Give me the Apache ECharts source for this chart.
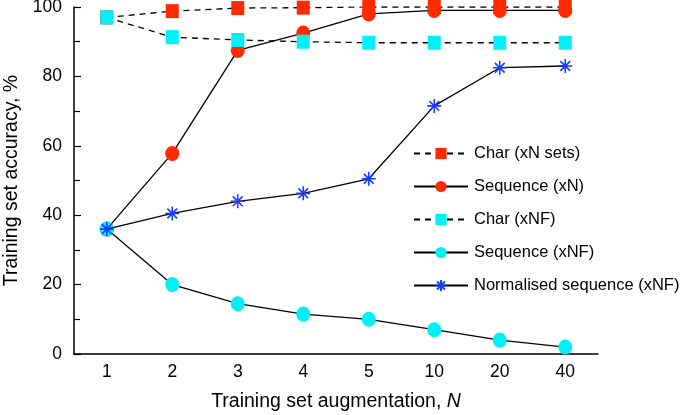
<!DOCTYPE html>
<html>
<head>
<meta charset="utf-8">
<script src="https://cdn.jsdelivr.net/npm/echarts@6/dist/echarts.min.js"></script>
<style>
  html, body { margin: 0; padding: 0; background: #fff; }
  #chart { width: 685px; height: 415px; }
</style>
</head>
<body>
<div id="chart"></div>
<script>
const categories = ['1', '2', '3', '4', '5', '10', '20', '40'];
const charXN = [97, 98.8, 99.7, 99.8, 100, 100, 100, 100];
const seqXN = [36, 57.8, 87.5, 92.5, 98, 99, 99, 99];
const charXNF = [97, 91.3, 90.5, 90, 89.7, 89.7, 89.7, 89.7];
const seqXNF = [36, 20, 14.5, 11.5, 10, 7, 4, 2];
const normSeqXNF = [36, 40.5, 44, 46.3, 50.5, 71.5, 82.5, 83];
const yTicks = [0, 20, 40, 60, 80, 100];

const FONT = 'Liberation Sans, Arial, sans-serif';
const asterisk = 'path://M0,-10L0,10M-10,0L10,0M-7,-7L7,7M-7,7L7,-7';

const chart = echarts.init(document.getElementById('chart'));

const option = {
  animation: false,
  grid: { left: 74, right: 87, top: 7, bottom: 61, outerBoundsMode: 'none' },
  legend: {
    orient: 'vertical',
    left: 408,
    top: 140,
    itemWidth: 54,
    itemHeight: 14,
    itemGap: 16,
    textStyle: { fontFamily: FONT, fontSize: 16.5, color: '#000', padding: [0, 0, 0, 1] },
    data: ['Char (xN sets)', 'Sequence (xN)', 'Char (xNF)', 'Sequence (xNF)', 'Normalised sequence (xNF)']
  },
  xAxis: {
    type: 'category',
    data: categories,
    boundaryGap: true,
    axisLine: { lineStyle: { color: '#000', width: 1.5 } },
    axisTick: { inside: true, alignWithLabel: true, length: 8, lineStyle: { color: '#000', width: 1.2 } },
    axisLabel: { color: '#000', fontFamily: FONT, fontSize: 17.5, margin: 9 },
    name: '{a|Training set augmentation, }{b|N}',
    nameLocation: 'middle',
    nameGap: 38,
    nameTextStyle: {
      rich: {
        a: { fontFamily: FONT, fontSize: 19.5, color: '#000' },
        b: { fontFamily: FONT, fontSize: 19.5, color: '#000', fontStyle: 'italic' }
      }
    }
  },
  yAxis: {
    type: 'value',
    min: yTicks[0],
    max: yTicks[yTicks.length - 1],
    interval: 20,
    splitLine: { show: false },
    axisLine: { show: true, lineStyle: { color: '#000', width: 1.5 } },
    axisTick: { show: true, inside: true, length: 7, lineStyle: { color: '#000', width: 1.2 } },
    minorTick: { show: true, splitNumber: 2, length: 6, lineStyle: { color: '#000', width: 1.2 } },
    axisLabel: { color: '#000', fontFamily: FONT, fontSize: 17.5, margin: 12 },
    name: 'Training set accuracy, %',
    nameLocation: 'middle',
    nameGap: 52,
    nameTextStyle: { fontFamily: FONT, fontSize: 19.5, color: '#000' }
  },
  series: [
    {
      name: 'Char (xN sets)',
      type: 'line',
      data: charXN,
      symbol: 'rect',
      symbolSize: [13, 14],
      z: 2,
      lineStyle: { color: '#000', width: 1.3, type: [6, 5] },
      itemStyle: { color: '#ff2a00' }
    },
    {
      name: 'Sequence (xN)',
      type: 'line',
      data: seqXN,
      symbol: 'circle',
      symbolSize: [14, 15],
      z: 3,
      lineStyle: { color: '#000', width: 1.3 },
      itemStyle: { color: '#ff2a00' }
    },
    {
      name: 'Char (xNF)',
      type: 'line',
      data: charXNF,
      symbol: 'rect',
      symbolSize: [13, 14],
      z: 4,
      lineStyle: { color: '#000', width: 1.3, type: [6, 5] },
      itemStyle: { color: '#00f0f8' }
    },
    {
      name: 'Sequence (xNF)',
      type: 'line',
      data: seqXNF,
      symbol: 'circle',
      symbolSize: [14, 15],
      z: 5,
      lineStyle: { color: '#000', width: 1.3 },
      itemStyle: { color: '#00f0f8' }
    },
    {
      name: 'Normalised sequence (xNF)',
      type: 'line',
      data: normSeqXNF,
      symbol: asterisk,
      symbolSize: 14,
      z: 6,
      lineStyle: { color: '#000', width: 1.3 },
      itemStyle: { color: '#1a3cff', borderColor: '#1a3cff', borderWidth: 1.6 }
    }
  ]
};

chart.setOption(option);
</script>
</body>
</html>
